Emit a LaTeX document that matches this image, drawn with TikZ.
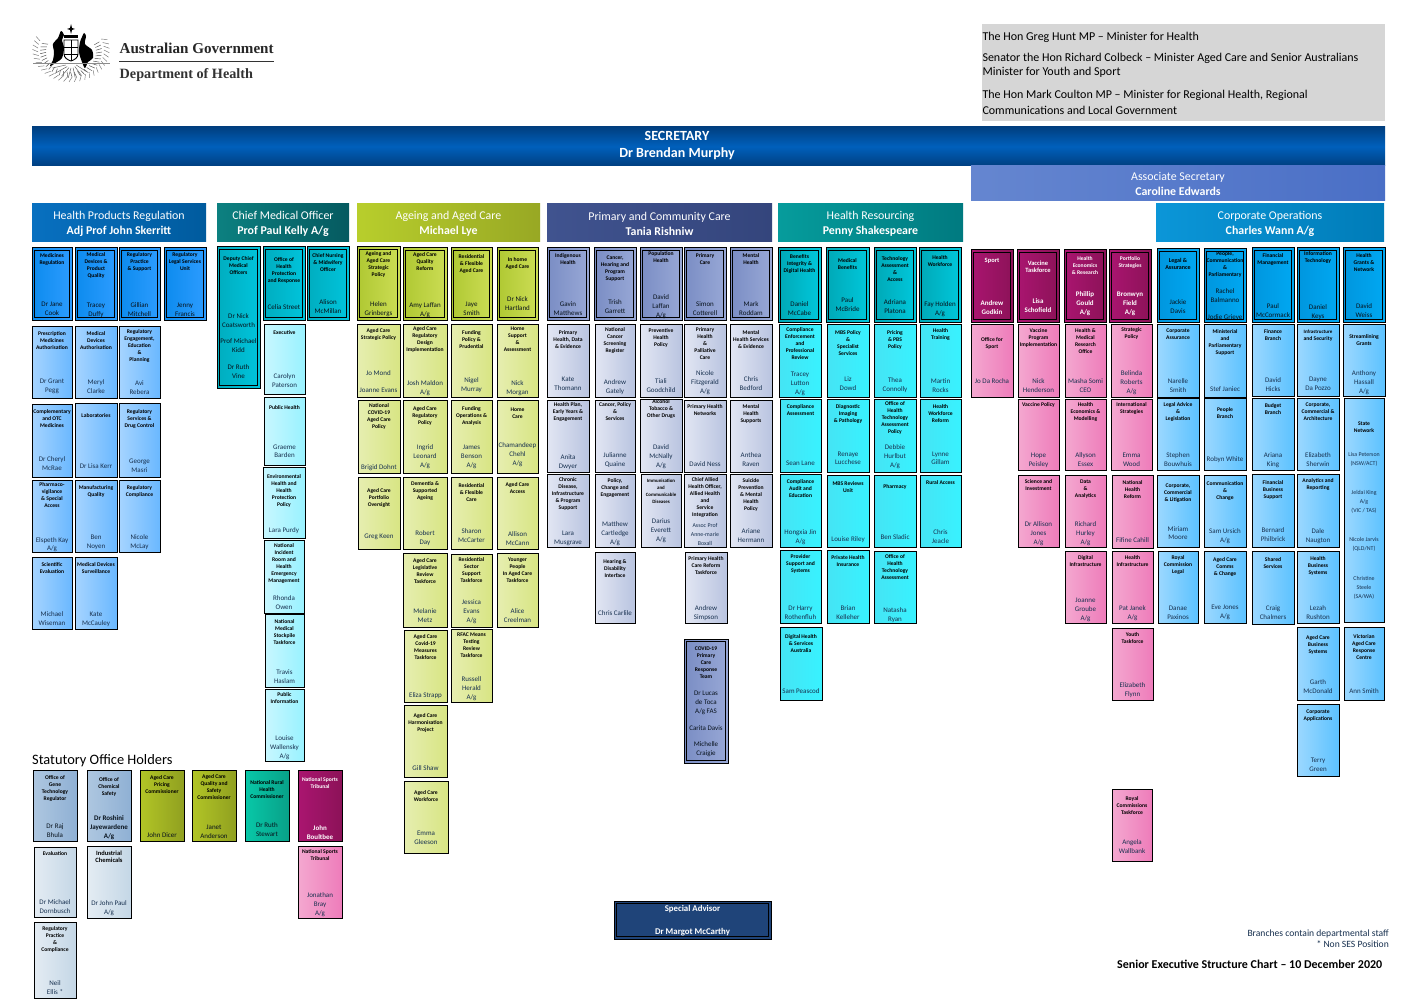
\documentclass[tikz,border=0pt]{standalone}
\usepackage{fontspec}
\setmainfont{Carlito}
\newfontfamily\logofont{Liberation Serif}
\usetikzlibrary{calc}
\newcommand{\fs}[2]{\fontsize{#1}{#2}\selectfont}
\newcommand{\smp}{\fs{5.9}{7.6}}
\newcommand{\smq}{\fs{5.9}{7}}
\newcommand{\smt}{\fs{4.9}{5.4}}
\newcommand{\bgt}{\fs{6.5}{9}}
\definecolor{psnblue}{HTML}{17304F}
\definecolor{psndark}{HTML}{08121C}
\newcounter{bxc}
\newif\ifdblbox
\tikzset{
 x=1pt,y=-1pt,
 bx/.style={draw=black,line width=1pt,inner sep=0pt,outer sep=0pt},
 ttl/.style={inner sep=0pt,outer sep=0pt,align=center,anchor=north,font=\fs{5.6}{7}\bfseries,text=\ttlcol},
 psn/.style={inner sep=0pt,outer sep=0pt,align=center,anchor=south,font=\fs{7}{9},text=\psncol},
 head/.style={inner sep=0pt,outer sep=0pt,align=center,text=white,font=\fs{11.9}{15}},
 hpra/.style={left color=hA1,right color=hA2}, hprb/.style={left color=hB1,right color=hB2},
 cmoa/.style={left color=cA1,right color=cA2}, cmob/.style={left color=cB1,right color=cB2},
 agea/.style={left color=aA1,right color=aA2}, ageb/.style={left color=aB1,right color=aB2},
 pria/.style={left color=pA1,right color=pA2}, prib/.style={left color=pB1,right color=pB2},
 resa/.style={left color=rA1,right color=rA2}, resb/.style={left color=rB1,right color=rB2},
 mara/.style={left color=mA1,right color=mA2}, marb/.style={left color=mB1,right color=mB2},
 cora/.style={left color=oA1,right color=oA2}, corb/.style={left color=oB1,right color=oB2},
 stta/.style={left color=sA1,right color=sA2}, sttb/.style={left color=sB1,right color=sB2},
 ola/.style={left color=hh3a,right color=hh3b},
 rur/.style={left color=uA1,right color=uA2},
 adv/.style={fill=advblue},
 note/.style={inner sep=0pt,outer sep=0pt,anchor=west,font=\fs{12}{13},text=black},
}
\definecolor{hA1}{HTML}{0C8BEE}\definecolor{hA2}{HTML}{2D9CFF}
\definecolor{hB1}{HTML}{A6D4FF}\definecolor{hB2}{HTML}{6AB8FF}
\definecolor{cA1}{HTML}{00ADBF}\definecolor{cA2}{HTML}{00C4DC}
\definecolor{cB1}{HTML}{C8F7FF}\definecolor{cB2}{HTML}{99F2FF}
\definecolor{aA1}{HTML}{AFC832}\definecolor{aA2}{HTML}{CCDD55}
\definecolor{aB1}{HTML}{E6EEB0}\definecolor{aB2}{HTML}{D8E584}
\definecolor{pA1}{HTML}{7A8DC4}\definecolor{pA2}{HTML}{98A8D6}
\definecolor{pB1}{HTML}{E2E6F3}\definecolor{pB2}{HTML}{B9C4E0}
\definecolor{rA1}{HTML}{00A8B6}\definecolor{rA2}{HTML}{00C8DC}
\definecolor{rB1}{HTML}{45E4F4}\definecolor{rB2}{HTML}{38F2FF}
\definecolor{mA1}{HTML}{AA1570}\definecolor{mA2}{HTML}{8C1258}
\definecolor{mB1}{HTML}{F4A8D0}\definecolor{mB2}{HTML}{EE7CBA}
\definecolor{oA1}{HTML}{0096DE}\definecolor{oA2}{HTML}{00A8F2}
\definecolor{oB1}{HTML}{9CD8FF}\definecolor{oB2}{HTML}{5CC2FF}
\definecolor{sA1}{HTML}{AEC7E0}\definecolor{sA2}{HTML}{8FB0D4}
\definecolor{sB1}{HTML}{E4ECF3}\definecolor{sB2}{HTML}{C4D7E6}
\definecolor{hh3a}{HTML}{B2C526}\definecolor{hh3b}{HTML}{90A020}
\definecolor{uA1}{HTML}{08C8A8}\definecolor{uA2}{HTML}{08A088}
\definecolor{advblue}{HTML}{1F4479}
% box: style, x0,y0,x1,y1, title offset, title, person offset, person
\newcommand{\boxcore}[9]{%
 \stepcounter{bxc}%
 \pgfmathsetmacro{\bxcx}{(#2+#4)/2}\pgfmathsetmacro{\bxcy}{(#3+#5)/2}%
 \pgfmathsetmacro{\bxw}{#4-#2}\pgfmathsetmacro{\bxh}{#5-#3}%
 \node[bx,#1,minimum width=\bxw pt,minimum height=\bxh pt] (b\thebxc) at (\bxcx,\bxcy) {};
 \ifdblbox
 \draw[line width=.9pt,black] ([xshift=2.4pt,yshift=-2.4pt]b\thebxc.north west) rectangle ([xshift=-2.4pt,yshift=2.4pt]b\thebxc.south east);
 \fi
 \node[ttl] (b\thebxc t) at ([yshift=-#6pt-0.5pt]b\thebxc.north) {\leavevmode\vphantom{H}#7\par};
 \node[psn] (b\thebxc p) at ([yshift=#8pt-0.5pt]b\thebxc.south) {#9\vphantom{g}\par};
}
\newcommand{\BX}{\dblboxfalse\def\ttlcol{black}\def\psncol{psnblue}\boxcore}
\newcommand{\DX}{\dblboxtrue\def\ttlcol{black}\def\psncol{psndark}\boxcore}
\newcommand{\WX}{\dblboxtrue\def\ttlcol{white}\def\psncol{white}\boxcore}
\newcommand{\VX}{\dblboxfalse\def\ttlcol{white}\def\psncol{white}\boxcore}
\newcommand{\SX}{\dblboxfalse\def\ttlcol{black}\def\psncol{psndark}\boxcore}
\begin{document}
\begin{tikzpicture}
\useasboundingbox (0,0) rectangle (1419,1003);
\fill[white] (0,0) rectangle (1419,1003);

% --- crest ---
\foreach \a in {-24,-16,...,204}{
 \draw[black!55,line width=.45pt] ($(71,50)+(\a:33 and 27)$) -- ($(71,50)+(\a+5:38.5 and 32)$);
 \draw[black!70,line width=.45pt] ($(71,52)+(\a+3:25 and 20)$) -- ($(71,52)+(\a:31 and 25)$);
}
\foreach \a in {30,50,...,150}{
 \draw[black!60,line width=.5pt] ($(71,62)+(\a:6 and 6)$) -- ($(71,62)+(\a+8:20 and 16)$);
}
\fill[black] plot[smooth cycle] coordinates {(61,31)(64,35)(62,40)(64,48)(62,58)(57,62)(50,66)(53,60)(54,52)(53,44)(58,38)};
\fill[black] plot[smooth cycle] coordinates {(84,33)(86,36)(85,44)(92,50)(93,58)(88,62)(85,68)(82,62)(79,52)(80,42)(82,37)};
\draw[black,line width=.9pt,fill=white] (64,40) -- (78,40) -- (78,54) .. controls (78,58) and (74,60) .. (71,61) .. controls (68,60) and (64,58) .. (64,54) -- cycle;
\draw[black,line width=.6pt] (71,40) -- (71,61) (64,47) -- (78,47) (64,54) -- (78,54);
\fill[black] (71,24) -- (72,28) -- (75,29) -- (72,30) -- (71,34) -- (70,30) -- (67,29) -- (70,28) -- cycle;
\fill[black] (64,35) rectangle (78,38);
\draw[black!45,line width=.5pt] (33,63) -- (110,63);
\node[inner sep=0pt,anchor=west,font=\logofont\bfseries\fs{15.1}{16},text=black!85] (ag) at (119.5,48) {Australian Government};
\draw[black!80,line width=1pt] (119,61.5) -- (274,61.5);
\node[inner sep=0pt,anchor=west,font=\logofont\bfseries\fs{14.2}{16},text=black!80] (doh) at (119.5,75) {Department of Health};

% --- top ---
\fill[black!16] (982,24) rectangle (1385,121);
\node[note] (m1) at (982.5,37) {The Hon Greg Hunt MP -- Minister for Health};
\node[note] (m2) at (982.5,58) {Senator the Hon Richard Colbeck -- Minister Aged Care and Senior Australians};
\node[note] (m3) at (982.5,72) {Minister for Youth and Sport};
\node[note] (m4) at (982.5,95) {The Hon Mark Coulton MP -- Minister for Regional Health, Regional};
\node[note] (m5) at (982.5,110) {Communications and Local Government};

\definecolor{secE}{HTML}{003F80}\definecolor{secM}{HTML}{0060BC}
\node[inner sep=0pt,outer sep=0pt,top color=secE,bottom color=secE,middle color=secM,minimum width=1353pt,minimum height=39pt] (sec) at (708.5,146.5) {};
\node[head,font=\fs{14}{17}\bfseries] (sect) at (677,145.5) {SECRETARY\\Dr Brendan Murphy\par};
\definecolor{asA}{HTML}{6586D0}\definecolor{asB}{HTML}{4A6FC6}
\node[inner sep=0pt,outer sep=0pt,left color=asA,right color=asB,minimum width=414pt,minimum height=35pt] (asc) at (1178,183.5) {};
\node[head] (asct) at (1178,184) {Associate Secretary\\\bfseries Caroline Edwards};

% --- headers ---
\definecolor{h1a}{HTML}{0870C0}\definecolor{h1b}{HTML}{005B9E}
\definecolor{h2a}{HTML}{0C8080}\definecolor{h2b}{HTML}{055A60}
\definecolor{h3a}{HTML}{B8CE2C}\definecolor{h3b}{HTML}{98A824}
\definecolor{h4a}{HTML}{40538F}\definecolor{h4b}{HTML}{34457C}
\definecolor{h5a}{HTML}{069C9C}\definecolor{h5b}{HTML}{007A80}
\definecolor{h6a}{HTML}{0B96D8}\definecolor{h6b}{HTML}{007CB8}
\newcommand{\HD}[5]{%
 \pgfmathsetmacro{\bxcx}{(#2+#3)/2}\pgfmathsetmacro{\bxw}{#3-#2}%
 \node[inner sep=0pt,outer sep=0pt,left color=#1a,right color=#1b,minimum width=\bxw pt,minimum height=38pt] (hd#1) at (\bxcx,223) {};
 \node[head] (hd#1t) at (\bxcx,223.5) {#4\\\bfseries #5};
}
\HD{h1}{32}{206}{Health Products Regulation}{Adj Prof John Skerritt}
\HD{h2}{217}{349}{Chief Medical Officer}{Prof Paul Kelly A/g}
\HD{h3}{357}{540}{Ageing and Aged Care}{Michael Lye}
\HD{h4}{547}{772}{Primary and Community Care}{Tania Rishniw}
\HD{h5}{778}{963}{Health Resourcing}{Penny Shakespeare}
\HD{h6}{1156}{1384}{Corporate Operations}{Charles Wann A/g}

% --- Health Products Regulation ---
\DX{hpra}{32}{248}{72}{320}{4.9}{Medicines\\Regulation}{3.3}{Dr Jane\\Cook}
\DX{hpra}{75}{248}{117}{320}{3.9}{Medical\\Devices \&\\Product\\Quality}{2.3}{Tracey\\Duffy}
\DX{hpra}{119}{248}{160}{320}{3.9}{Regulatory\\Practice\\\& Support}{2.9}{Gillian\\Mitchell}
\DX{hpra}{164}{248}{206}{320}{3.9}{Regulatory\\Legal Services\\Unit}{2.3}{Jenny\\Francis}
\BX{hprb}{32}{326}{72}{398}{4.9}{Prescription\\Medicines\\Authorisation}{4.3}{Dr Grant\\Pegg}
\BX{hprb}{75}{326}{117}{398}{4.9}{Medical\\Devices\\Authorisation}{3.3}{Meryl\\Clarke}
\BX{hprb}{119}{326}{160}{398}{3.2}{Regulatory\\Engagement,\\Education\\\&\\Planning}{2.3}{Avi\\Rebera}
\BX{hprb}{32}{404}{72}{477}{5.2}{Complementary\\and OTC\\Medicines}{5.6}{Dr Cheryl\\McRae}
\BX{hprb}{75}{403}{117}{477}{9.9}{Laboratories}{7.6}{Dr Lisa Kerr}
\BX{hprb}{119}{403}{160}{477}{5.9}{Regulatory\\Services \&\\Drug Control}{3.6}{George\\Masri}
\BX{hprb}{32}{480}{72}{552}{1.9}{Pharmaco-\\vigilance\\\& Special\\Access}{0.3}{Elspeth Kay\\A/g}
\BX{hprb}{75}{480}{117}{552}{4.9}{Manufacturing\\Quality}{3.3}{Ben\\Noyen}
\BX{hprb}{119}{480}{160}{552}{4.9}{Regulatory\\Compliance}{3.3}{Nicole\\McLay}
\BX{hprb}{32}{557}{72}{629}{4.9}{Scientific\\Evaluation}{3.3}{Michael\\Wiseman}
\BX{hprb}{75}{557}{117}{629}{4.9}{Medical Devices\\Surveillance}{3.3}{Kate\\McCauley}

% --- Chief Medical Officer ---
\DX{cmoa}{217}{247}{260}{388}{9.2}{Deputy Chief\\Medical\\Officers}{8.6}{Dr Nick\\Coatsworth\\[7.7pt]Prof Michael\\Kidd\\[7.7pt]Dr Ruth\\Vine}
\DX{cmoa}{263}{247}{305}{320}{10.2}{Office of\\Health\\Protection\\and Response}{9.3}{Celia Street}
\DX{cmoa}{307}{247}{349}{320}{6.2}{Chief Nursing\\\& Midwifery\\Officer}{5.6}{Alison\\McMillan}
\BX{cmob}{264}{324}{305}{394}{5.9}{Executive}{5.3}{Carolyn\\Paterson}
\BX{cmob}{264}{397}{305}{465}{7.9}{Public Health}{6.3}{Graeme\\Barden}
\BX{cmob}{263}{467}{305}{538}{7.2}{Environmental\\Health and\\Health\\Protection\\Policy}{5.3}{Lara Purdy}
\BX{cmob}{264}{540}{304}{613}{3.2}{National\\Incident\\Room and\\Health\\Emergency\\Management}{2.6}{Rhonda\\Owen}
\BX{cmob}{265}{614}{304}{687}{4.9}{National\\Medical\\Stockpile\\Taskforce}{2.6}{Travis\\Haslam}
\BX{cmob}{265}{689}{304}{761}{2.9}{Public\\Information}{1.9}{Louise\\Wallensky\\A/g}

% --- Statutory ---
\node[inner sep=0pt,anchor=west,font=\fs{14.4}{16},text=black] (stat) at (32,761) {Statutory Office Holders};
\SX{stta}{33}{770}{77}{841}{4.9}{Office of\\Gene\\Technology\\Regulator}{3.3}{Dr Raj\\Bhula}
\SX{stta}{87}{770}{131}{841}{6.9}{Office of\\Chemical\\Safety}{1.9}{\bfseries Dr Roshini\\\bfseries Jayewardene\\\bfseries A/g}
\SX{ola}{140}{770}{184}{841}{4.9}{Aged Care\\Pricing\\Commissioner}{3.3}{John Dicer}
\SX{ola}{192}{770}{236}{841}{3.9}{Aged Care\\Quality and\\Safety\\Commissioner}{2.3}{Janet\\Anderson}
\SX{rur}{245}{770}{289}{841}{9.9}{National Rural\\Health\\Commissioner}{4.3}{Dr Ruth\\Stewart}
\VX{mara}{298}{770}{342}{841}{6.9}{National Sports\\Tribunal}{1.3}{\bfseries John\\\bfseries Boultbee}
\BX{sttb}{34}{847}{76}{917}{3.9}{Evaluation}{3.3}{Dr Michael\\Dornbusch}
\BX{sttb}{87}{846}{131}{918}{4.3}{\bgt Industrial\\\bgt Chemicals}{3.3}{Dr John Paul\\A/g}
\BX{marb}{298}{846}{342}{918}{2.9}{National Sports\\Tribunal}{2.3}{Jonathan\\Bray\\A/g}
\BX{sttb}{34}{922}{76}{998}{3.9}{Regulatory\\Practice\\\&\\Compliance}{3.3}{Neil\\Ellis *}

% --- Ageing ---
\DX{agea}{357}{247}{400}{320}{4.2}{Ageing and\\Aged Care\\Strategic\\Policy}{3.3}{Helen\\Grinbergs}
\DX{agea}{403}{248}{447}{320}{3.9}{Aged Care\\Quality\\Reform}{3}{Amy Laffan\\A/g}
\DX{agea}{451}{248}{492}{320}{5.9}{Residential\\\& Flexible\\Aged Care}{4}{Jaye\\Smith}
\DX{agea}{497}{248}{538}{320}{8.9}{In home\\Aged Care}{8.6}{Dr Nick\\Hartland}
\BX{ageb}{357}{324}{400}{397}{3.9}{Aged Care\\Strategic Policy}{3.6}{Jo Mond\\[8pt]Joanne Evans}
\BX{ageb}{403}{324}{447}{397}{1.9}{Aged Care\\Regulatory\\Design\\Implementation}{1.6}{Josh Maldon\\A/g}
\BX{ageb}{451}{324}{492}{397}{5.9}{Funding\\Policy \&\\Prudential}{4.6}{Nigel\\Murray}
\BX{ageb}{497}{324}{538}{397}{1.9}{Home\\Support\\\&\\Assessment}{1.6}{Nick\\Morgan}
\BX{ageb}{358}{400}{400}{473}{3.2}{National\\COVID-19\\Aged Care\\Policy}{2.6}{Brigid Dohnt}
\BX{ageb}{403}{400}{447}{473}{6.2}{Aged Care\\Regulatory\\Policy}{4.3}{Ingrid\\Leonard\\A/g}
\BX{ageb}{451}{400}{492}{473}{6.2}{Funding\\Operations \&\\Analysis}{4.3}{James\\Benson\\A/g}
\BX{ageb}{497}{400}{538}{473}{7.2}{Home\\Care}{6.3}{Chamandeep\\Chehl\\A/g}
\BX{ageb}{358}{477}{400}{549}{10.9}{Aged Care\\Portfolio\\Oversight}{10.3}{Greg Keen}
\BX{ageb}{403}{477}{447}{549}{3.9}{Dementia \&\\Supported\\Ageing}{4.3}{Robert\\Day}
\BX{ageb}{451}{477}{492}{549}{5.9}{Residential\\\& Flexible\\Care}{6.3}{Sharon\\McCarter}
\BX{ageb}{497}{477}{538}{549}{4.9}{Aged Care\\Access}{3.3}{Allison\\McCann}
\BX{ageb}{403}{553}{447}{627}{4.9}{Aged Care\\Legislative\\Review\\Taskforce}{3.6}{Melanie\\Metz}
\BX{ageb}{451}{554}{492}{627}{2.9}{Residential\\Sector\\Support\\Taskforce}{3.6}{Jessica\\Evans\\A/g}
\BX{ageb}{497}{553}{538}{627}{3.9}{Younger\\People\\In Aged Care\\Taskforce}{3.6}{Alice\\Creelman}
\BX{ageb}{404}{630}{447}{702}{3.9}{Aged Care\\Covid-19\\Measures\\Taskforce}{3.6}{Eliza Strapp}
\BX{ageb}{451}{629}{492}{702}{2.9}{RFAC Means\\Testing\\Review\\Taskforce}{1.6}{Russell\\Herald\\A/g}
\BX{ageb}{404}{705}{447}{777}{7.9}{Aged Care\\Harmonisation\\Project}{6.3}{Gill Shaw}
\BX{ageb}{404}{781}{448}{853}{8.9}{Aged Care\\Workforce}{8.3}{Emma\\Gleeson}

% --- Primary and Community Care ---
\DX{pria}{547}{248}{589}{320}{4.9}{Indigenous\\Health}{4}{Gavin\\Matthews}
\DX{pria}{594}{248}{636}{320}{6.9}{Cancer,\\Hearing and\\Program\\Support}{6}{Trish\\Garrett}
\DX{pria}{640}{248}{682}{320}{2.9}{Population\\Health}{2}{David\\Laffan\\A/g}
\DX{pria}{684}{248}{726}{320}{4.9}{Primary\\Care}{4}{Simon\\Cotterell}
\DX{pria}{730}{248}{772}{320}{4.9}{Mental\\Health}{4}{Mark\\Roddam}
\BX{prib}{547}{324}{589}{397}{5.9}{Primary\\Health, Data\\\& Evidence}{5.6}{Kate\\Thomann}
\BX{prib}{595}{324}{635}{397}{2.9}{National\\Cancer\\Screening\\Register}{2.6}{Andrew\\Gately}
\BX{prib}{640}{324}{682}{397}{3.9}{Preventive\\Health\\Policy}{3.6}{Tiali\\Goodchild}
\BX{prib}{684}{324}{726}{397}{2.9}{Primary\\Health\\\&\\Palliative\\Care}{2.6}{Nicole\\Fitzgerald\\A/g}
\BX{prib}{730}{324}{772}{397}{5.9}{Mental\\Health Services\\\& Evidence}{5.6}{Chris\\Bedford}
\BX{prib}{547}{400}{589}{472}{2.2}{Health Plan,\\Early Years \&\\Engagement}{2.6}{Anita\\Dwyer}
\BX{prib}{595}{400}{635}{472}{2.2}{Cancer, Policy\\\&\\Services}{4.9}{Julianne\\Quaine}
\BX{prib}{640}{399}{682}{472}{0.2}{Alcohol\\Tobacco \&\\Other Drugs}{3.6}{David\\McNally\\A/g}
\BX{prib}{684}{400}{726}{472}{4.2}{Primary Health\\Networks}{4.9}{David Ness}
\BX{prib}{730}{400}{772}{472}{4.2}{Mental\\Health\\Supports}{4.9}{Anthea\\Raven}
\BX{prib}{547}{474}{589}{547}{2.9}{Chronic\\Disease,\\Infrastructure\\\& Program\\Support}{1.6}{Lara\\Musgrave}
\BX{prib}{595}{474}{635}{547}{3.9}{Policy,\\Change and\\Engagement}{2.3}{Matthew\\Cartledge\\A/g}
\BX{prib}{641}{474}{681}{547}{3.9}{\smt Immunisation\\\smt and\\\smt Communicable\\\smt Diseases}{4.6}{Darius\\Everett\\A/g}
\BX{prib}{684}{474}{726}{547}{2.9}{Chief Allied\\Health Officer,\\Allied Health\\and\\Service\\Integration}{1.3}{\smq Assoc Prof\\\smq Anne-marie\\\smq Boxall}
\BX{prib}{730}{474}{772}{547}{3.9}{Suicide\\Prevention\\\& Mental\\Health\\Policy}{3.6}{Ariane\\Hermann}
\BX{prib}{595}{552}{635}{623}{7.5}{Hearing \&\\Disability\\Interface}{7.3}{Chris Carlile}
\BX{prib}{685}{552}{727}{623}{4.5}{Primary Health\\Care Reform\\Taskforce}{3.3}{Andrew\\Simpson}
\DX{pria}{684}{639}{728}{763}{6.9}{COVID-19\\Primary\\Care\\Response\\Team}{6.6}{Dr Lucas\\de Toca\\A/g FAS\\[7.5pt]Carita Davis\\[7.5pt]Michelle\\Craigie}

% --- Special advisor ---
\dblboxtrue\def\ttlcol{white}\def\psncol{white}
\boxcore{adv}{614}{901}{771}{939}{4.2}{\fs{8.8}{10}Special Advisor}{3.5}{\fs{8.8}{10}\bfseries Dr Margot McCarthy}

% --- Health Resourcing ---
\DX{resa}{778}{248}{821}{322}{5.9}{Benefits\\Integrity \&\\Digital Health}{5.6}{Daniel\\McCabe}
\DX{resa}{826}{248}{869}{322}{9.9}{Medical\\Benefits}{9.6}{Paul\\McBride}
\DX{resa}{874}{248}{916}{322}{7.9}{Technology\\Assessment\\\&\\Access}{7.6}{Adriana\\Platona}
\DX{resa}{919}{248}{961}{322}{6.9}{Health\\Workforce}{5.6}{Fay Holden\\A/g}
\BX{resb}{779}{324}{821}{397}{2.9}{Compliance\\Enforcement\\and\\Professional\\Review}{1.6}{Tracey\\Lutton\\A/g}
\BX{resb}{827}{324}{869}{397}{5.9}{MBS Policy\\\&\\Specialist\\Services}{5.6}{Liz\\Dowd}
\BX{resb}{874}{324}{916}{397}{5.9}{Pricing\\\& PBS\\Policy}{4.6}{Thea\\Connolly}
\BX{resb}{920}{324}{961}{397}{3.9}{Health\\Training}{3.6}{Martin\\Rocks}
\BX{resb}{780}{399}{821}{472}{4.9}{Compliance\\Assessment}{5.3}{Sean Lane}
\BX{resb}{827}{399}{869}{472}{4.9}{Diagnostic\\Imaging\\\& Pathology}{6.3}{Renaye\\Lucchese}
\BX{resb}{874}{399}{916}{472}{1.9}{Office of\\Health\\Technology\\Assessment\\Policy}{3.3}{Debbie\\Hurlbut\\A/g}
\BX{resb}{920}{399}{961}{472}{4.9}{Health\\Workforce\\Reform}{6.3}{Lynne\\Gillam}
\BX{resb}{780}{474}{821}{547}{4.9}{Compliance\\Audit and\\Education}{3.3}{Hongxia Jin\\A/g}
\BX{resb}{827}{475}{869}{547}{5.9}{MBS Reviews\\Unit}{5.3}{Louise Riley}
\BX{resb}{874}{475}{916}{547}{8.9}{Pharmacy}{7.3}{Ben Sladic}
\BX{resb}{920}{475}{961}{547}{4.9}{Rural Access}{3.3}{Chris\\Jeacle}
\BX{resb}{780}{550}{821}{623}{3.9}{Provider\\Support and\\Systems}{3.3}{Dr Harry\\Rothenfluh}
\BX{resb}{827}{550}{869}{623}{4.9}{Private Health\\Insurance}{3.3}{Brian\\Kelleher}
\BX{resb}{874}{551}{916}{623}{2.9}{Office of\\Health\\Technology\\Assessment}{1.3}{Natasha\\Ryan}
\BX{resb}{780}{627}{822}{700}{6.9}{Digital Health\\\& Services\\Australia}{6.3}{Sam Peascod}

% --- Magenta ---
\WX{mara}{971}{250}{1013}{322}{7.3}{\bgt Sport}{6.6}{\bfseries Andrew\\\bfseries Godkin}
\WX{mara}{1017}{250}{1059}{322}{10}{\bgt Vaccine\\\bgt Taskforce}{8.6}{\bfseries Lisa\\\bfseries Schofield}
\WX{mara}{1064}{250}{1106}{322}{6.5}{Health\\Economics\\\& Research}{6.6}{\bfseries Phillip\\\bfseries Gould\\\bfseries A/g}
\WX{mara}{1109}{250}{1151}{322}{6.5}{Portfolio\\Strategies}{6.6}{\bfseries Bronwyn\\\bfseries Field\\\bfseries A/g}
\BX{marb}{971}{324}{1013}{397}{12.9}{Office for\\Sport}{12.6}{Jo Da Rocha}
\BX{marb}{1018}{324}{1059}{397}{3.9}{Vaccine\\Program\\Implementation}{3.6}{Nick\\Henderson}
\BX{marb}{1065}{324}{1106}{397}{3.9}{Health \&\\Medical\\Research\\Office}{3.6}{Masha Somi\\CEO}
\BX{marb}{1111}{324}{1152}{397}{2.9}{Strategic\\Policy}{2.6}{Belinda\\Roberts\\A/g}
\BX{marb}{1018}{399}{1059}{470}{2.9}{Vaccine Policy}{2.9}{Hope\\Peisley}
\BX{marb}{1065}{399}{1106}{470}{2.9}{Health\\Economics \&\\Modelling}{2.9}{Allyson\\Essex}
\BX{marb}{1111}{399}{1152}{470}{2.9}{International\\Strategies}{2.9}{Emma\\Wood}
\BX{marb}{1018}{475}{1059}{547}{4.2}{Science and\\Investment}{2}{Dr Allison\\Jones\\A/g}
\BX{marb}{1065}{475}{1106}{547}{4.2}{Data\\\&\\Analytics}{2}{Richard\\Hurley\\A/g}
\BX{marb}{1112}{475}{1153}{548}{5.2}{National\\Health\\Reform}{5.3}{Fifine Cahill}
\BX{marb}{1065}{551}{1106}{623}{3.9}{Digital\\Infrastructure}{2.3}{Joanne\\Groube\\A/g}
\BX{marb}{1112}{551}{1153}{623}{3.9}{Health\\Infrastructure}{3.3}{Pat Janek\\A/g}
\BX{marb}{1112}{628}{1153}{700}{3.9}{Youth\\Taskforce}{3.3}{Elizabeth\\Flynn}
\BX{marb}{1112}{789}{1152}{861}{6.9}{Royal\\Commissions\\Taskforce}{6.6}{Angela\\Wallbank}

% --- Corporate ---
\DX{cora}{1157}{249}{1199}{322}{8.9}{\fs{6}{7.5}Legal \&\\\fs{6}{7.5}Assurance}{7.6}{Jackie\\Davis}
\DX{cora}{1204}{249}{1246}{322}{1.9}{People,\\Communication\\\&\\Parliamentary}{1.6}{Rachel\\Balmanno\\[8pt]Jodie Grieve}
\DX{cora}{1252}{248}{1294}{322}{4.9}{Financial\\Management}{3.6}{Paul\\McCormack}
\DX{cora}{1297}{248}{1339}{322}{3}{Information\\Technology}{2.6}{Daniel\\Keys}
\DX{cora}{1343}{248}{1385}{322}{4.9}{Health\\Grants \&\\Network}{3.6}{David\\Weiss}
\BX{corb}{1157}{324}{1199}{397}{3.9}{Corporate\\Assurance}{3.6}{Narelle\\Smith}
\BX{corb}{1204}{324}{1246}{397}{4.9}{Ministerial\\and\\Parliamentary\\Support}{4.6}{Stef Janiec}
\BX{corb}{1252}{324}{1294}{396}{4.9}{Finance\\Branch}{3.6}{David\\Hicks}
\BX{corb}{1297}{324}{1339}{396}{4.9}{\fs{5}{7.5}Infrastructure\\\fs{5.6}{7.5}and Security}{4.6}{Dayne\\Da Pozzo}
\BX{corb}{1343}{324}{1385}{396}{9.9}{Streamlining\\Grants}{1.6}{Anthony\\Hassall\\A/g}
\BX{corb}{1157}{398}{1199}{470}{3.9}{Legal Advice\\\&\\Legislation}{2.9}{Stephen\\Bouwhuis}
\BX{corb}{1204}{398}{1246}{470}{8.9}{People\\Branch}{7.9}{Robyn White}
\BX{corb}{1252}{398}{1294}{470}{4.9}{Budget\\Branch}{2.9}{Ariana\\King}
\BX{corb}{1297}{398}{1339}{470}{3.9}{Corporate,\\Commercial \&\\Architecture}{2.9}{Elizabeth\\Sherwin}
\BX{corb}{1344}{398}{1384}{622}{22.9}{State\\Network}{23.2}{\smp Lisa Peterson\\\smp (NSW/ACT)\\[20.4pt]\smp Jeldai King\\\smp A/g\\\smp (VIC / TAS)\\[20.4pt]\smp Nicole Jarvis\\\smp (QLD/NT)\\[20.4pt]\smp Christine\\\smp Steele\\\smp (SA/WA)}
\BX{corb}{1157}{475}{1199}{547}{7.9}{Corporate,\\Commercial\\\& Litigation}{6.3}{Miriam\\Moore}
\BX{corb}{1204}{475}{1246}{547}{5.9}{Communication\\\&\\Change}{3.9}{Sam Ursich\\A/g}
\BX{corb}{1252}{474}{1294}{547}{6}{Financial\\Business\\Support}{5.3}{Bernard\\Philbrick}
\BX{corb}{1297}{474}{1339}{547}{3.9}{Analytics and\\Reporting}{4.3}{Dale\\Naugton}
\BX{corb}{1158}{551}{1198}{623}{3.9}{Royal\\Commission\\Legal}{3.3}{Danae\\Paxinos}
\BX{corb}{1204}{551}{1246}{623}{5.9}{Aged Care\\Comms\\\& Change}{4.3}{Eve Jones\\A/g}
\BX{corb}{1252}{551}{1294}{624}{5.9}{Shared\\Services}{4.3}{Craig\\Chalmers}
\BX{corb}{1297}{551}{1339}{623}{4.9}{Health\\Business\\Systems}{3.3}{Lezah\\Rushton}
\BX{corb}{1297}{627}{1339}{700}{7.9}{Aged Care\\Business\\Systems}{6.3}{Garth\\McDonald}
\BX{corb}{1344}{627}{1384}{700}{6.9}{Victorian\\Aged Care\\Response\\Centre}{6.3}{Ann Smith}
\BX{corb}{1297}{704}{1339}{776}{4.9}{Corporate\\Applications}{4.3}{Terry\\Green}

% --- footer ---
\node[inner sep=0pt,anchor=east,font=\fs{9.6}{11},text=psnblue] (f1) at (1389,933.5) {Branches contain departmental staff};
\node[inner sep=0pt,anchor=east,font=\fs{9.6}{11},text=psnblue] (f2) at (1389,944.5) {* Non SES Position};
\node[inner sep=0pt,anchor=east,font=\fs{12}{13}\bfseries,text=black] (f3) at (1382.5,964.5) {Senior Executive Structure Chart -- 10 December 2020};
\end{tikzpicture}
\end{document}
